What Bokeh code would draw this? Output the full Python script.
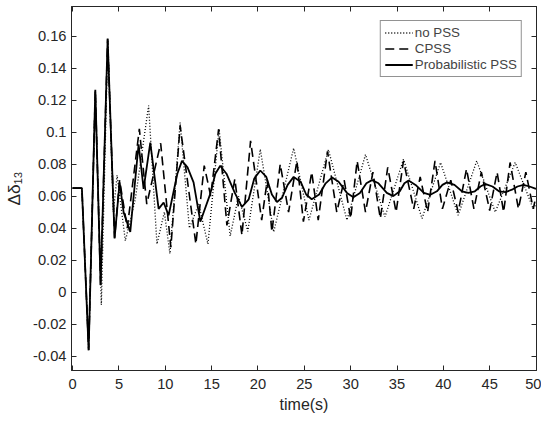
from bokeh.plotting import figure
from bokeh.models import Range1d, Legend, LegendItem, FixedTicker, LinearAxis
from bokeh.embed import file_html
from bokeh.resources import INLINE

# Probabilistic PSS (solid)
t_prob = [0, 1.0, 1.73, 2.45, 3.02, 3.78, 4.53, 5.07, 5.5, 6.22, 7.12, 7.66, 8.38, 9.28, 9.82,
          10.36, 11.3, 11.8, 12.4, 13.05, 13.78, 14.85, 15.4, 15.93, 16.6, 17.5, 18.27, 19.0,
          19.6, 20.25, 20.9, 21.5, 22.05, 22.6, 23.2, 23.85, 24.6, 25.2, 25.8, 26.6, 27.3,
          28.0, 28.7, 29.6, 30.3, 31.0, 31.7, 32.3, 33.0, 33.9, 34.6, 35.3, 35.8, 36.25, 37.0,
          37.9, 38.6, 39.3, 39.9, 40.4, 41.2, 42.0, 42.7, 43.4, 44.0, 44.5, 45.3, 46.0, 46.7,
          47.4, 48.0, 48.65, 49.3, 50.0]
v_prob = [0.065, 0.065, -0.0364, 0.1265, 0.0045, 0.1585, 0.0335, 0.0686, 0.05, 0.0376, 0.0924,
          0.0645, 0.0934, 0.052, 0.056, 0.048, 0.074, 0.082, 0.078, 0.0686, 0.044, 0.0614,
          0.074, 0.079, 0.074, 0.062, 0.0533, 0.058, 0.071, 0.076, 0.072, 0.061, 0.0563, 0.059,
          0.067, 0.072, 0.069, 0.061, 0.058, 0.061, 0.068, 0.0717, 0.069, 0.062, 0.0593, 0.062,
          0.068, 0.070, 0.068, 0.062, 0.060, 0.063, 0.068, 0.0697, 0.067, 0.062, 0.0608, 0.063,
          0.067, 0.0686, 0.067, 0.063, 0.062, 0.063, 0.066, 0.0676, 0.066, 0.063, 0.0625,
          0.064, 0.066, 0.067, 0.066, 0.0645]

# no PSS (dotted)
t_nopss = [0, 1.0, 1.73, 2.45, 3.1, 3.8, 4.4, 4.8, 5.69, 6.76, 8.2, 9.1, 9.9, 10.5, 11.6, 12.6,
           13.6, 14.6, 15.8, 17.0, 17.9, 18.9, 20.25, 21.7, 23.85, 25.5, 27.6, 29.6, 31.6,
           33.7, 35.7, 37.7, 39.7, 41.6, 43.6, 45.6, 47.75, 49.7, 50.0]
v_nopss = [0.065, 0.065, -0.036, 0.126, -0.008, 0.157, 0.05, 0.073, 0.032, 0.058, 0.1166, 0.03,
           0.05, 0.024, 0.106, 0.04, 0.055, 0.03, 0.102, 0.035, 0.06, 0.038, 0.0893, 0.0376,
           0.090, 0.045, 0.089, 0.045, 0.086, 0.047, 0.083, 0.046, 0.081, 0.048, 0.082, 0.050,
           0.081, 0.052, 0.055]

# CPSS (dashed)
t_cpss = [0, 1.0, 1.73, 2.45, 3.02, 3.78, 4.53, 5.07, 5.9, 7.2, 8.0, 9.5, 10.6, 11.6, 13.3,
          14.2, 14.9, 15.75, 16.65, 17.5, 18.27, 19.2, 20.4, 21.0, 21.5, 22.4, 23.3, 24.2,
          24.9, 25.8, 26.5, 27.5, 28.5, 29.3, 30.0, 30.7, 31.6, 32.4, 33.2, 34.0, 34.9, 35.7,
          36.8, 37.5, 38.3, 39.1, 39.9, 40.8, 41.6, 42.5, 43.3, 44.1, 45.0, 45.8, 46.5, 47.2,
          48.1, 48.9, 49.7, 50.0]
v_cpss = [0.065, 0.065, -0.036, 0.126, 0.004, 0.158, 0.034, 0.07, 0.04, 0.102, 0.055, 0.093,
          0.028, 0.104, 0.03, 0.079, 0.06, 0.1017, 0.0417, 0.0707, 0.0355, 0.0945, 0.045, 0.07,
          0.0376, 0.080, 0.05, 0.082, 0.044, 0.075, 0.045, 0.088, 0.05, 0.07, 0.046, 0.082,
          0.05, 0.075, 0.046, 0.078, 0.05, 0.082, 0.052, 0.072, 0.05, 0.082, 0.052, 0.07, 0.05,
          0.077, 0.052, 0.075, 0.051, 0.075, 0.05, 0.081, 0.052, 0.075, 0.052, 0.06]

x_ticks = [0, 5, 10, 15, 20, 25, 30, 35, 40, 45, 50]
y_ticks = [-0.04, -0.02, 0, 0.02, 0.04, 0.06, 0.08, 0.1, 0.12, 0.14, 0.16]
y_labels = {-0.04: "-0.04", -0.02: "-0.02", 0: "0", 0.02: "0.02", 0.04: "0.04", 0.06: "0.06",
            0.08: "0.08", 0.1: "0.1", 0.12: "0.12", 0.14: "0.14", 0.16: "0.16"}

p = figure(width=541, height=415, output_backend="svg", toolbar_location=None,
           x_range=Range1d(-0.12, 50.05), y_range=Range1d(-0.049, 0.1785),
           min_border_left=71, min_border_right=5, min_border_top=6, min_border_bottom=43)
p.background_fill_color = "white"
p.border_fill_color = "white"
p.outline_line_color = "#262626"
p.outline_line_width = 1
p.grid.visible = False

FONT = "Liberation Sans"
for ax in (p.xaxis[0], p.yaxis[0]):
    ax.axis_line_color = "#262626"
    ax.major_tick_line_color = "#262626"
    ax.minor_tick_line_color = None
    ax.major_tick_in = 5
    ax.major_tick_out = 0
    ax.major_label_text_font = FONT
    ax.major_label_text_font_size = "11pt"
    ax.major_label_text_color = "#262626"
    ax.axis_label_text_font = FONT
    ax.axis_label_text_font_style = "normal"
    ax.axis_label_text_color = "#262626"

p.xaxis.ticker = FixedTicker(ticks=x_ticks)
p.yaxis.ticker = FixedTicker(ticks=y_ticks)
p.yaxis.major_label_overrides = y_labels
p.xaxis.axis_label = "time(s)"
p.xaxis.axis_label_text_font_size = "12pt"
p.xaxis.axis_label_standoff = 4
p.xaxis.major_label_standoff = 8
p.yaxis.axis_label = "Δδ₁₃"
p.yaxis.axis_label_text_font_size = "13pt"
p.yaxis.axis_label_standoff = 6

top = LinearAxis(ticker=FixedTicker(ticks=x_ticks), major_label_text_font_size="0pt",
                 major_label_standoff=0,
                 axis_line_color="#262626", major_tick_line_color="#262626",
                 major_tick_in=5, major_tick_out=0, minor_tick_line_color=None)
right = LinearAxis(ticker=FixedTicker(ticks=y_ticks), major_label_text_font_size="0pt",
                   major_label_standoff=0,
                   axis_line_color="#262626", major_tick_line_color="#262626",
                   major_tick_in=5, major_tick_out=0, minor_tick_line_color=None)
p.add_layout(top, "above")
p.add_layout(right, "right")

r1 = p.line(t_nopss, v_nopss, line_color="black", line_width=1.3, line_dash="1 2")
r2 = p.line(t_cpss, v_cpss, line_color="black", line_width=1.6, line_dash="9 5")
r3 = p.line(t_prob, v_prob, line_color="black", line_width=1.8)

legend = Legend(items=[LegendItem(label="no PSS", renderers=[r1]),
                       LegendItem(label="CPSS", renderers=[r2]),
                       LegendItem(label="Probabilistic PSS", renderers=[r3])],
                location="top_right")
legend.label_text_font = FONT
legend.label_text_font_size = "10pt"
legend.border_line_color = "#262626"
legend.glyph_width = 28
legend.glyph_height = 15
legend.label_height = 15
legend.spacing = 1
legend.padding = 4
legend.margin = 14
legend.label_standoff = 2
p.add_layout(legend)

open("out.html", "w").write(file_html(p, INLINE))
